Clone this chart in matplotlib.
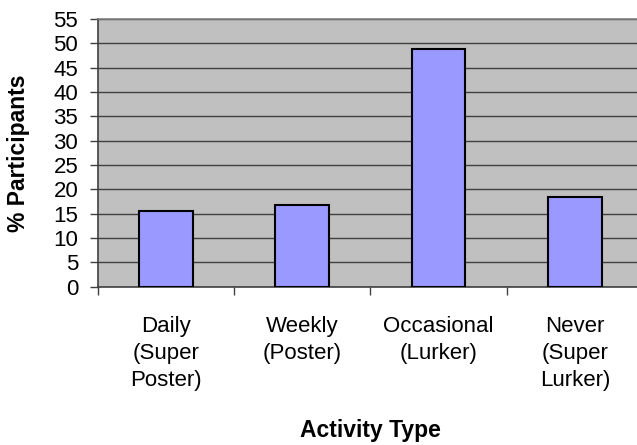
import matplotlib
matplotlib.use("Agg")
import matplotlib.pyplot as plt
import numpy as np

categories = ["Daily\n(Super\nPoster)", "Weekly\n(Poster)", "Occasional\n(Lurker)", "Never\n(Super\nLurker)"]
values = [15.5, 16.8, 48.8, 18.5]
yticks = list(range(0, 60, 5))

plt.rcParams['font.family'] = ['Liberation Sans', 'DejaVu Sans']

W, H = 637, 445
fig = plt.figure(figsize=(W / 100, H / 100), dpi=100)
left, right, top, bottom = 97.7, 643.0, 19.0, 286.7
ax = fig.add_axes([left / W, (H - bottom) / H, (right - left) / W, (bottom - top) / H])
ax.set_facecolor('#C0C0C0')

x = np.arange(len(categories))
ax.set_axisbelow(True)
ax.yaxis.grid(True, color='#404040', linewidth=1.0)
ax.bar(x, values, width=0.395, color='#9999FF', edgecolor='black', linewidth=1.5, zorder=3)

ax.set_xlim(-0.5, len(categories) - 0.5)
ax.set_ylim(0, 55)
ax.set_yticks(yticks)
ax.set_yticklabels([str(t) for t in yticks], fontsize=16)
ax.tick_params(axis='y', length=6, width=1, color='#404040', pad=8)

ax.set_xticks(x)
ax.set_xticklabels(categories, fontsize=16, linespacing=1.37, va='top')
ax.tick_params(axis='x', which='major', length=0, pad=21)
ax.set_xticks(np.arange(-0.5, len(categories), 1.0), minor=True)
ax.tick_params(axis='x', which='minor', length=6, width=1, color='#404040')

for s in ['left', 'bottom']:
    ax.spines[s].set_color('#404040')
    ax.spines[s].set_linewidth(1.2)
ax.spines['top'].set_color('#808080')
ax.spines['top'].set_linewidth(1.2)
ax.spines['right'].set_visible(False)

ax.set_ylabel('% Participants', fontsize=16.5, fontweight='bold', va='center')
ax.yaxis.set_label_coords((18 - left) / (right - left), 0.5)
ax.set_xlabel('Activity Type', fontsize=16.5, fontweight='bold', va='center')
ax.xaxis.set_label_coords(0.5, -(431 - bottom) / (bottom - top))

fig.savefig('out.png', dpi=100)
